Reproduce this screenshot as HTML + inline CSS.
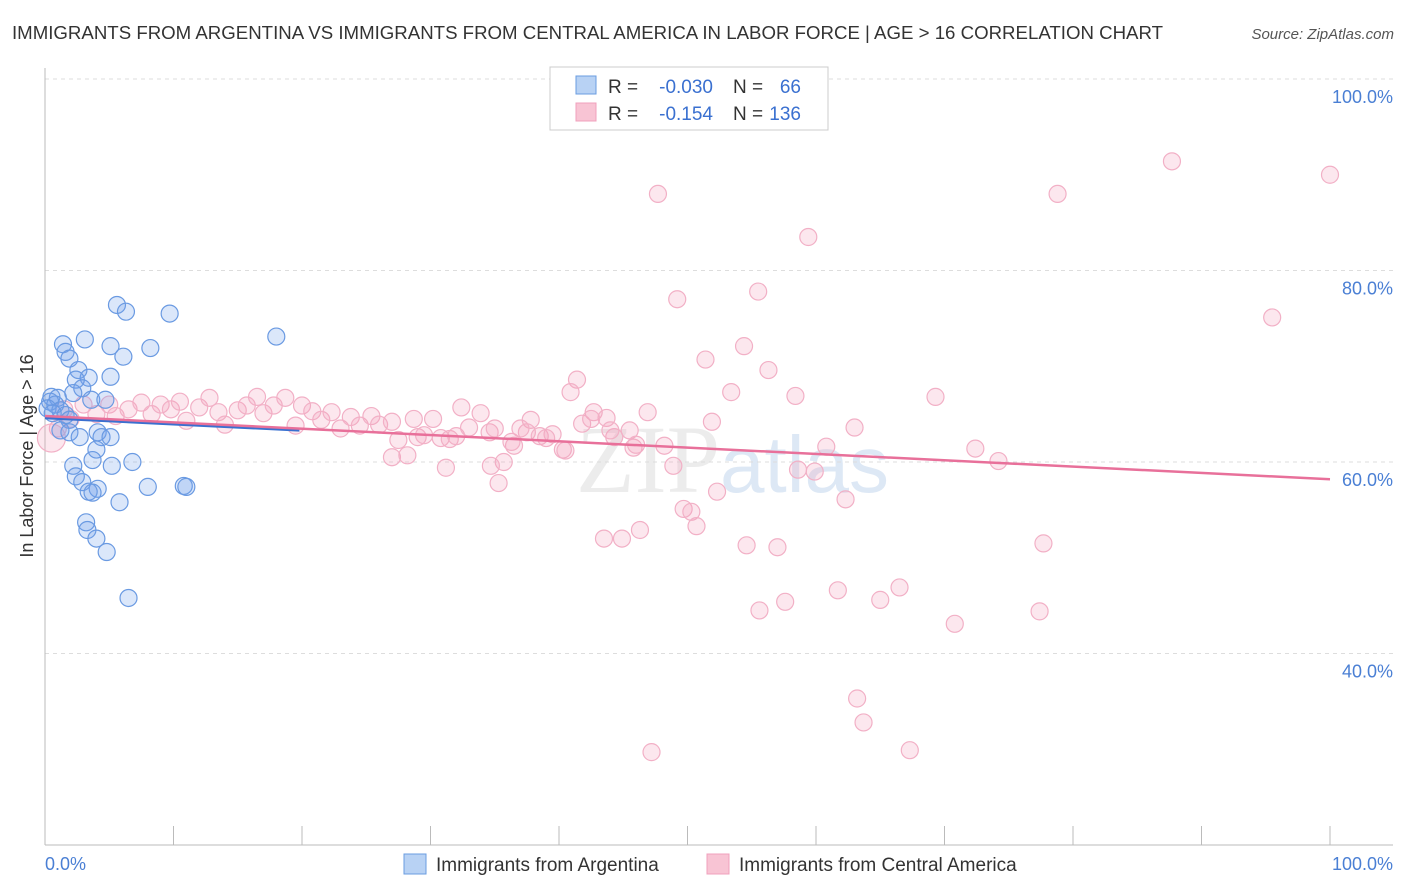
<!DOCTYPE html>
<html><head><meta charset="utf-8"><style>
body{margin:0;background:#fff;font-family:"Liberation Sans",sans-serif;}
svg{display:block}
</style></head><body>
<svg id="c" width="1406" height="892">
<text x="12" y="39" font-size="18" fill="#333" textLength="1151" lengthAdjust="spacingAndGlyphs">IMMIGRANTS FROM ARGENTINA VS IMMIGRANTS FROM CENTRAL AMERICA IN LABOR FORCE | AGE &gt; 16 CORRELATION CHART</text>
<text x="1394" y="39" font-size="15" fill="#555" font-style="italic" text-anchor="end">Source: ZipAtlas.com</text>
<text transform="translate(33,456) rotate(-90)" font-size="18" fill="#333" text-anchor="middle">In Labor Force | Age &gt; 16</text>
<text x="720" y="492" font-size="96" fill="#ececec" text-anchor="end" font-family="Liberation Serif,serif">ZIP</text>
<text x="720" y="492" font-size="80" fill="#dde8f5">atlas</text>
<g id="grid"></g><g id="pts"></g><g id="lines"></g>
<g>
<rect x="550" y="67" width="278" height="63" fill="#fff" stroke="#ccc"/>
<rect x="576" y="76" width="20" height="18" fill="#b8d2f4" stroke="#6a9ce0"/>
<rect x="576" y="103" width="20" height="18" fill="#f8c4d4" stroke="#f0a0bc"/>
<text x="608" y="93" font-size="19" fill="#333">R =</text>
<text x="713" y="93" font-size="19" fill="#3a70d0" text-anchor="end">-0.030</text>
<text x="733" y="93" font-size="19" fill="#333">N =</text>
<text x="801" y="93" font-size="19" fill="#3a70d0" text-anchor="end">66</text>
<text x="608" y="120" font-size="19" fill="#333">R =</text>
<text x="713" y="120" font-size="19" fill="#3a70d0" text-anchor="end">-0.154</text>
<text x="733" y="120" font-size="19" fill="#333">N =</text>
<text x="801" y="120" font-size="19" fill="#3a70d0" text-anchor="end">136</text>
</g>
<g>
<rect x="404" y="854" width="22" height="20" fill="#b8d2f4" stroke="#6a9ce0"/>
<text x="436" y="871" font-size="19" fill="#333">Immigrants from Argentina</text>
<rect x="707" y="854" width="22" height="20" fill="#f8c4d4" stroke="#f0a0bc"/>
<text x="739" y="871" font-size="19" fill="#333">Immigrants from Central America</text>
</g>
<text x="45" y="870" font-size="18" fill="#4a7fd4">0.0%</text>
<text x="1393" y="870" font-size="18" fill="#4a7fd4" text-anchor="end">100.0%</text>
</svg>
<script>
const yTicks=[100,80,60,40];
const yTickLabels=["100.0%","80.0%","60.0%","40.0%"];
const blueX=[5.6,6.3,9.7,18.0,3.1,1.4,5.1,8.2,1.6,6.1,1.9,2.6,5.1,3.4,2.4,2.9,2.2,3.6,4.7,0.5,1.0,0.4,0.8,0.2,1.2,0.6,1.6,1.9,1.2,1.9,4.1,2.7,4.4,5.1,4.0,3.7,5.2,6.8,2.2,2.4,2.9,8.0,10.8,11.0,4.1,3.4,3.7,5.8,3.2,3.3,4.0,4.8,6.5];
const blueY=[76.4,75.7,75.5,73.1,72.8,72.3,72.1,71.9,71.5,71.0,70.8,69.6,68.9,68.8,68.6,67.7,67.2,66.5,66.5,66.8,66.7,66.3,66.0,65.6,65.4,65.1,64.9,64.4,63.3,63.1,63.1,62.6,62.6,62.6,61.3,60.2,59.6,60.0,59.6,58.5,57.9,57.4,57.5,57.4,57.2,56.9,56.8,55.8,53.7,52.9,52.0,50.6,45.8];
const pinkX=[87.7,100,47.7,78.8,59.4,49.2,55.5,95.5,54.4,51.4,56.3,41.4,53.4,40.9,58.4,69.3,32.4,33.9,42.7,46.9,43.7,51.9,63.0,37.8,34.6,44.3,45.5,48.2,60.8,45.8,72.4,74.2,36.5,35.7,34.7,31.2,40.3,48.9,58.6,59.9,35.3,52.3,62.3,49.7,50.3,50.7,46.3,43.5,44.9,54.6,57.0,77.7,66.5,61.7,57.6,55.6,65.0,77.4,70.8,63.2,63.7,47.2,67.3,
1,1.5,2,3,4,5,5.5,6.5,7.5,8.3,9,9.8,10.5,11,12,12.8,13.5,14,15,15.7,16.5,17,17.8,18.7,19.5,20,20.8,21.5,22.3,23,23.8,24.5,25.4,26,27,27.5,27,28.2,28.7,29,29.5,30.2,30.8,31.5,32,33,35,36.3,37.5,38.5,39.5,40.5,41.8,42.5,44,46,37,39,0.5];
const pinkY=[91.4,90.0,88.0,88.0,83.5,77.0,77.8,75.1,72.1,70.7,69.6,68.6,67.3,67.3,66.9,66.8,65.7,65.1,65.2,65.2,64.6,64.2,63.6,64.4,63.1,62.6,63.3,61.7,61.6,61.5,61.4,60.1,61.7,60.0,59.6,59.4,61.3,59.6,59.2,59.0,57.8,56.9,56.1,55.1,54.8,53.3,52.9,52.0,52.0,51.3,51.1,51.5,46.9,46.6,45.4,44.5,45.6,44.4,43.1,35.3,32.8,29.7,29.9,
63.5,65.5,64.5,66,65,66,64.8,65.5,66.2,65,66,65.5,66.3,64.3,65.7,66.7,65.2,63.9,65.4,65.9,66.8,65.1,65.9,66.7,63.8,65.9,65.3,64.4,65.2,63.5,64.7,63.8,64.8,63.9,64.2,62.3,60.5,60.7,64.5,62.6,62.8,64.5,62.5,62.4,62.7,63.6,63.5,62.1,63.1,62.7,62.9,61.2,64,64.5,63.3,61.8,63.5,62.5,62.5];
const blueLine=[[0,64.6],[19.8,63.3]];
const pinkLine=[[0,64.8],[100,58.2]];
const NS="http://www.w3.org/2000/svg";
const sx=v=>45+v*12.85, sy=v=>79+(100-v)*9.575;
function mk(t,a,p){const e=document.createElementNS(NS,t);for(const k in a)e.setAttribute(k,a[k]);p.appendChild(e);return e;}
const grid=document.getElementById('grid');
yTicks.forEach((t,i)=>{
 const l=mk('line',{x1:45,x2:1393,y1:sy(t),y2:sy(t),stroke:'#ddd','stroke-dasharray':'4,4'},grid);
 
 
 const tx=mk('text',{x:1393,y:sy(t)+24,'font-size':18,fill:'#4a7fd4','text-anchor':'end'},grid);
 tx.textContent=yTickLabels[i];
 
 
});
const ax=mk('line',{x1:45,x2:45,y1:68,y2:845,stroke:'#bbb'},grid);


const bx=mk('line',{x1:45,x2:1393,y1:845,y2:845,stroke:'#bbb'},grid);


for(let i=0;i<=10;i++){const t=mk('line',{x1:sx(i*10),x2:sx(i*10),y1:826,y2:845,stroke:'#bbb'},grid);
 
 }
const pts=document.getElementById('pts');
pinkX.forEach((x,i)=>{const c=mk('circle',{cx:sx(x),cy:sy(pinkY[i]),r:(i==pinkX.length-1)?14:8.5,fill:'rgba(244,160,188,0.25)',stroke:'#f2b0c6','stroke-width':1.2},pts);
 
 });
blueX.forEach((x,i)=>{const c=mk('circle',{cx:sx(x),cy:sy(blueY[i]),r:8.5,fill:'rgba(110,160,235,0.25)',stroke:'#6a9ae2','stroke-width':1.2},pts);
 
 });
const lines=document.getElementById('lines');
const bl=mk('line',{x1:sx(blueLine[0][0]),y1:sy(blueLine[0][1]),x2:sx(blueLine[1][0]),y2:sy(blueLine[1][1]),stroke:'#3a70d0','stroke-width':2.5},lines);


const pl=mk('line',{x1:sx(pinkLine[0][0]),y1:sy(pinkLine[0][1]),x2:sx(pinkLine[1][0]),y2:sy(pinkLine[1][1]),stroke:'#e8709a','stroke-width':2.5},lines);


</script>
</body></html>
